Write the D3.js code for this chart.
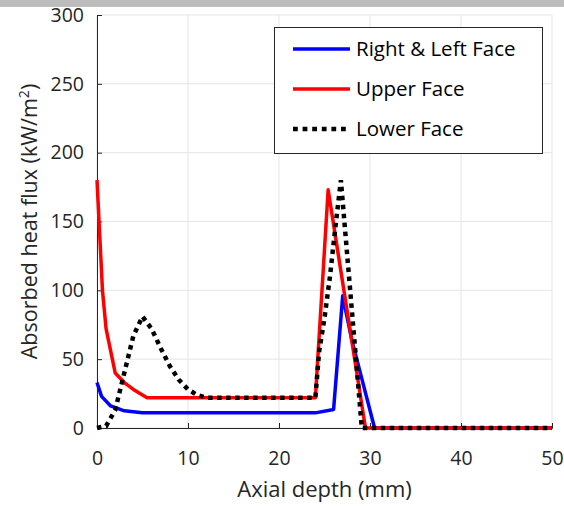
<!DOCTYPE html>
<html>
<head>
<meta charset="utf-8">
<script src="https://cdn.jsdelivr.net/npm/d3@7"></script>
<style>
  html, body { margin: 0; padding: 0; background: #fff; }
  svg { display: block; font-family: "Open Sans", Lato, sans-serif; }
</style>
</head>
<body>
<svg id="chart" width="564" height="506"></svg>
<script>
// ---- data ----
const xTicks = [0, 10, 20, 30, 40, 50];
const yTicks = [0, 50, 100, 150, 200, 250, 300];

const seriesNames = ["Right & Left Face", "Upper Face", "Lower Face"];

const rightLeftX = [0, 0.5, 1.5, 3, 5, 24, 26, 27, 28, 30.5, 50];
const rightLeftY = [33, 23, 16, 12.5, 11, 11, 13.5, 96, 64, 0, 0];

const upperX = [0, 0.6, 1, 2, 3, 4, 5, 5.5, 24, 25.4, 29.5, 50];
const upperY = [180, 100, 72, 40, 33, 28, 24, 22, 22, 173, 0, 0];

const lowerX = [0, 1, 2, 3, 4, 5, 6, 7, 8, 9, 10, 11, 12, 24, 24.4, 25, 25.6, 26.2, 26.8, 29.1, 50];
const lowerY = [0, 1.5, 13, 40, 67, 81, 72, 58, 45, 35, 28, 24, 22, 22, 55, 80, 110, 146, 180, 0, 0];

// ---- layout ----
const svg = d3.select("#chart");
const L = 97, R = 552, T = 15, B = 428;
const x = d3.scaleLinear().domain([0, 50]).range([L, R]);
const y = d3.scaleLinear().domain([0, 300]).range([B, T]);
const axisColor = "#262626";
const fontFam = "'Open Sans', Lato, sans-serif";

// top gray banner (cropped)
svg.append("rect").attr("x", 0).attr("y", 0).attr("width", 564).attr("height", 7).attr("fill", "#bdbdbd");

// grid
svg.append("g").selectAll("line").data(xTicks).join("line")
  .attr("x1", d => x(d)).attr("x2", d => x(d)).attr("y1", T).attr("y2", B)
  .attr("stroke", "#e5e5e5").attr("stroke-width", 1);
svg.append("g").selectAll("line").data(yTicks).join("line")
  .attr("x1", L).attr("x2", R).attr("y1", d => y(d)).attr("y2", d => y(d))
  .attr("stroke", "#e5e5e5").attr("stroke-width", 1);

// axes
const xAxis = d3.axisBottom(x).tickValues(xTicks).tickSize(-5).tickPadding(23);
const yAxis = d3.axisLeft(y).tickValues(yTicks).tickSize(-5).tickPadding(13);
const gx = svg.append("g").attr("transform", `translate(0,${B})`).call(xAxis);
const gy = svg.append("g").attr("transform", `translate(${L},0)`).call(yAxis);
[gx, gy].forEach(g => {
  g.attr("font-family", fontFam).attr("font-size", 19.5);
  g.select(".domain").attr("stroke", axisColor).attr("stroke-width", 1);
  g.selectAll(".tick line").attr("stroke", axisColor);
  g.selectAll(".tick text").attr("fill", axisColor);
});
gx.selectAll(".tick text").attr("dy", "0.71em");

// lines
const line = d3.line().x(d => x(d[0])).y(d => y(d[1]));
const zip = (a, b) => a.map((v, i) => [v, b[i]]);
svg.append("path").datum(zip(rightLeftX, rightLeftY)).attr("d", line)
  .attr("fill", "none").attr("stroke", "#0000ff").attr("stroke-width", 3.5).attr("stroke-linejoin", "round");
svg.append("path").datum(zip(upperX, upperY)).attr("d", line)
  .attr("fill", "none").attr("stroke", "#ff0000").attr("stroke-width", 3.5).attr("stroke-linejoin", "round");
svg.append("path").datum(zip(lowerX, lowerY)).attr("d", line)
  .attr("fill", "none").attr("stroke", "#000").attr("stroke-width", 4.5).attr("stroke-dasharray", "4.5 4.5");

// axis titles
svg.append("text").attr("x", (L + R) / 2).attr("y", 497).attr("text-anchor", "middle")
  .attr("fill", axisColor).style("font-size", "22px").text("Axial depth (mm)");
const yt = svg.append("text").attr("transform", `translate(37,${(T + B) / 2}) rotate(-90)`)
  .attr("text-anchor", "middle").attr("fill", axisColor).style("font-size", "21.5px");
yt.append("tspan").text("Absorbed heat flux (kW/m");
yt.append("tspan").attr("dy", -8).style("font-size", "14px").text("2");
yt.append("tspan").attr("dy", 8).text(")");

// legend
const lg = svg.append("g");
lg.append("rect").attr("x", 274.5).attr("y", 27.5).attr("width", 268).attr("height", 126)
  .attr("fill", "#fff").attr("stroke", axisColor).attr("stroke-width", 1);
const legendStyles = [
  { color: "#0000ff", w: 3.5, dash: null },
  { color: "#ff0000", w: 3.5, dash: null },
  { color: "#000", w: 4.5, dash: "4.8 4.8" }
];
seriesNames.forEach((name, i) => {
  const cy = 49 + i * 40;
  const s = legendStyles[i];
  const l = lg.append("line").attr("x1", 293).attr("x2", 350).attr("y1", cy).attr("y2", cy)
    .attr("stroke", s.color).attr("stroke-width", s.w);
  if (s.dash) l.attr("stroke-dasharray", s.dash);
  lg.append("text").attr("x", 356).attr("y", cy + 7).attr("fill", "#000")
    .style("font-size", "20.5px").text(name);
});
</script>
</body>
</html>
